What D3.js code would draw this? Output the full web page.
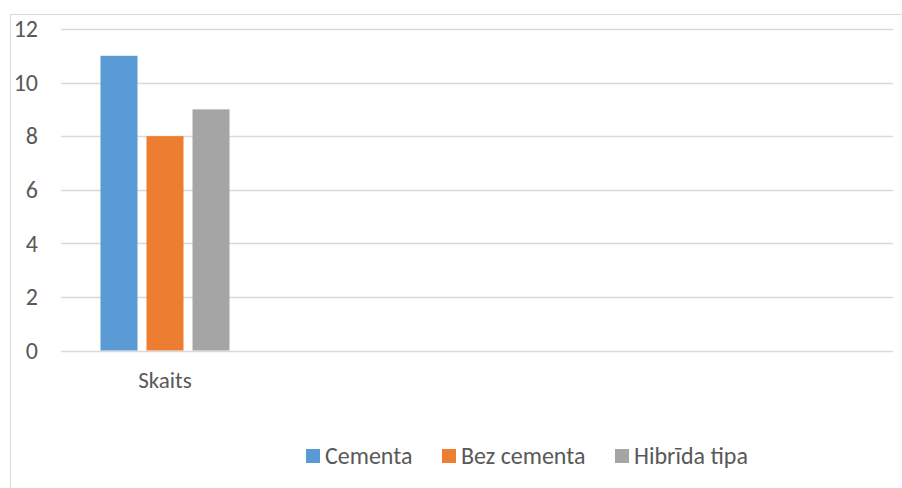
<!DOCTYPE html>
<html>
<head>
<meta charset="utf-8">
<script src="https://cdn.jsdelivr.net/npm/d3@7"></script>
<style>
  body { margin: 0; background: #fff; }
  text { font-family: Carlito, "Open Sans", sans-serif; fill: #595959; }
</style>
</head>
<body>
<div id="chart"></div>
<script>
// categories (only the first has data, the others are empty slots)
var categories = ["Skaits", "", "", ""];
var seriesNames = ["Cementa", "Bez cementa", "Hibrīda tipa"];
var cementa = [11];
var bezCementa = [8];
var hibrida = [9];
var yTicks = [0, 2, 4, 6, 8, 10, 12];
var colors = ["#5b9bd5", "#ed7d31", "#a5a5a5"];

var width = 902;
var height = 488;

var svg = d3.select("#chart")
  .append("svg")
  .attr("width", width)
  .attr("height", height);

// chart frame
svg.append("rect")
  .attr("x", 10.5)
  .attr("y", 14.5)
  .attr("width", 920)
  .attr("height", 500)
  .attr("fill", "none")
  .attr("stroke", "#d9d9d9");

var plotLeft = 61, plotRight = 893, plotTop = 29, plotBottom = 350.5;

var x0 = d3.scaleBand()
  .domain(d3.range(categories.length))
  .range([plotLeft, plotRight])
  .padding(0);

var x1 = d3.scaleBand()
  .domain(seriesNames)
  .range([0, x0.bandwidth()])
  .paddingInner(0.1957)
  .paddingOuter(0.8587);

var y = d3.scaleLinear()
  .domain([0, 12])
  .range([plotBottom, plotTop]);

// gridlines
svg.append("g")
  .selectAll("line")
  .data(yTicks)
  .enter()
  .append("line")
  .attr("x1", plotLeft)
  .attr("x2", plotRight)
  .attr("y1", function(d) { return Math.round(y(d)) + 0.5; })
  .attr("y2", function(d) { return Math.round(y(d)) + 0.5; })
  .attr("stroke", "#d9d9d9")
  .attr("stroke-width", 1.3);

// y axis labels
var yAxis = d3.axisLeft(y).tickValues(yTicks).tickSize(0).tickPadding(0);
var yG = svg.append("g")
  .attr("transform", "translate(38,0)")
  .call(yAxis);
yG.select(".domain").remove();
yG.selectAll("text")
  .attr("font-size", 24)
  .attr("font-family", "Carlito, 'Open Sans', sans-serif")
  .attr("fill", "#595959");

// bars
var series = [cementa, bezCementa, hibrida];
series.forEach(function(vals, s) {
  svg.append("g")
    .selectAll("rect")
    .data(vals)
    .enter()
    .append("rect")
    .attr("x", function(d, i) { return x0(i) + x1(seriesNames[s]); })
    .attr("y", function(d) { return y(d); })
    .attr("width", x1.bandwidth())
    .attr("height", function(d) { return y(0) - y(d); })
    .attr("fill", colors[s]);
});

// x axis labels
var xAxis = d3.axisBottom(x0)
  .tickFormat(function(i) { return categories[i]; })
  .tickSize(0)
  .tickPadding(0);
var xG = svg.append("g")
  .attr("transform", "translate(0," + (plotBottom + 21) + ")")
  .call(xAxis);
xG.select(".domain").remove();
xG.selectAll("text")
  .attr("font-size", 23)
  .attr("font-family", "Carlito, 'Open Sans', sans-serif")
  .attr("fill", "#595959");

// legend
var legendX = [306, 442, 615];
var legend = svg.append("g");
seriesNames.forEach(function(name, i) {
  legend.append("rect")
    .attr("x", legendX[i])
    .attr("y", 449)
    .attr("width", 14)
    .attr("height", 14)
    .attr("fill", colors[i]);
  legend.append("text")
    .attr("x", legendX[i] + 19)
    .attr("y", 464)
    .attr("font-size", 24)
    .text(name);
});
</script>
</body>
</html>
